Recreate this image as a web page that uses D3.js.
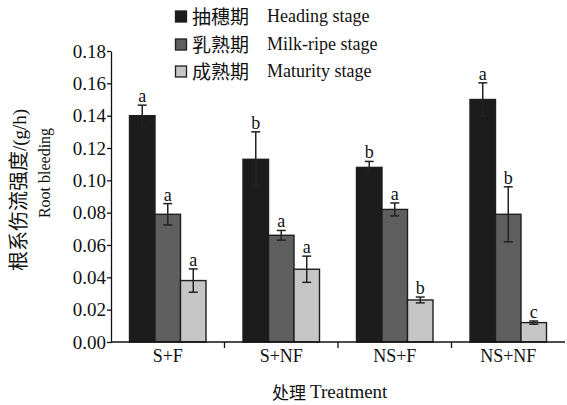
<!DOCTYPE html>
<html><head><meta charset="utf-8">
<script src="https://cdn.jsdelivr.net/npm/d3@7"></script>
</head><body style="margin:0;background:#fff">
<svg id="chart" width="567" height="405"></svg>
<script>
const categories = ["S+F", "S+NF", "NS+F", "NS+NF"];
const seriesNames = ["抽穗期", "乳熟期", "成熟期"];
const seriesNamesEn = ["Heading stage", "Milk-ripe stage", "Maturity stage"];
const seriesColors = ["#1c1c1c", "#5f5f5f", "#c6c6c6"];
const heading = [0.140, 0.113, 0.108, 0.150];
const milkRipe = [0.079, 0.066, 0.082, 0.079];
const maturity = [0.038, 0.045, 0.026, 0.012];
const headingErr = [0.0065, 0.017, 0.0037, 0.0103];
const milkRipeErr = [0.0066, 0.003, 0.004, 0.017];
const maturityErr = [0.0072, 0.0081, 0.0018, 0.001];
const headingSig = ["a", "b", "b", "a"];
const milkRipeSig = ["a", "a", "a", "b"];
const maturitySig = ["a", "a", "b", "c"];
const yTicks = [0, 0.02, 0.04, 0.06, 0.08, 0.10, 0.12, 0.14, 0.16, 0.18];

const SERIF = "Liberation Serif";
const CJK = "Noto Sans CJK SC";

const values = [heading, milkRipe, maturity];
const errs = [headingErr, milkRipeErr, maturityErr];
const sigs = [headingSig, milkRipeSig, maturitySig];

const svg = d3.select("#chart");
const x0 = 111, x1 = 565, yTop = 51, yBot = 342;

const x = d3.scaleBand().domain(categories).range([x0, x1]).paddingInner(0).paddingOuter(0);
const y = d3.scaleLinear().domain([0, 0.18]).range([yBot, yTop]);
const barW = 25.5;
const groupW = barW * 3;

const data = [];
categories.forEach((c, ci) => {
  values.forEach((vals, si) => {
    data.push({c, si, v: vals[ci], e: errs[si][ci], s: sigs[si][ci]});
  });
});
const bx = d => x(d.c) + x.bandwidth() / 2 - groupW / 2 + d.si * barW;

svg.append("g").selectAll("rect").data(data).join("rect")
  .attr("x", d => bx(d))
  .attr("y", d => y(d.v))
  .attr("width", barW)
  .attr("height", d => y(0) - y(d.v))
  .attr("fill", d => seriesColors[d.si])
  .attr("stroke", "#1e1e1e")
  .attr("stroke-width", 1.4);

const eg = svg.append("g").attr("stroke", "#222").attr("stroke-width", 1.5);
data.forEach(d => {
  const cx = bx(d) + barW / 2;
  const top = y(d.v + d.e), bot = y(d.v - d.e);
  eg.append("line").attr("x1", cx).attr("x2", cx).attr("y1", top).attr("y2", bot);
  eg.append("line").attr("x1", cx - 4.5).attr("x2", cx + 4.5).attr("y1", top).attr("y2", top);
  eg.append("line").attr("x1", cx - 4.5).attr("x2", cx + 4.5).attr("y1", bot).attr("y2", bot);
});

svg.append("g").selectAll("text").data(data).join("text")
  .style("font-family", SERIF)
  .attr("x", d => bx(d) + barW / 2)
  .attr("y", d => y(d.v + d.e) - 3)
  .attr("text-anchor", "middle")
  .attr("font-size", 18)
  .attr("fill", "#111")
  .text(d => d.s);

// y axis
const yAxis = d3.axisLeft(y).tickValues(yTicks).tickFormat(d3.format(".2f")).tickSize(4).tickSizeOuter(0);
const yg = svg.append("g").attr("transform", `translate(${x0},0)`).call(yAxis);
yg.attr("font-family", null).attr("font-size", null);
yg.select(".domain").attr("stroke", "#111").attr("stroke-width", 1.3);
yg.selectAll(".tick line").attr("stroke", "#111").attr("stroke-width", 1.3);
yg.selectAll(".tick text").style("font-family", SERIF).attr("font-size", 19).attr("fill", "#111")
  .attr("x", -5);

// x axis
const xg = svg.append("g").attr("transform", `translate(0,${yBot})`);
xg.append("line").attr("x1", x0).attr("x2", x1).attr("y1", 0).attr("y2", 0)
  .attr("stroke", "#111").attr("stroke-width", 1.5);
categories.slice(1).forEach(c => {
  xg.append("line").attr("x1", x(c)).attr("x2", x(c)).attr("y1", 0).attr("y2", 6)
    .attr("stroke", "#111").attr("stroke-width", 1.3);
});
xg.selectAll("text.cat").data(categories).join("text")
  .attr("class", "cat")
  .style("font-family", SERIF)
  .attr("x", d => x(d) + x.bandwidth() / 2)
  .attr("y", 20)
  .attr("text-anchor", "middle")
  .attr("font-size", 18)
  .attr("fill", "#111")
  .text(d => d);

// x title
svg.append("text").style("font-family", CJK).attr("x", 272).attr("y", 399)
  .attr("font-size", 17).attr("fill", "#111").text("处理");
svg.append("text").style("font-family", SERIF).attr("x", 310).attr("y", 398)
  .attr("font-size", 19).attr("fill", "#111").text("Treatment");

// y title
const yt1 = svg.append("text").attr("transform", "translate(26,190) rotate(-90)").attr("text-anchor", "middle").attr("fill", "#111");
yt1.append("tspan").style("font-family", CJK).attr("font-size", 20).text("根系伤流强度");
yt1.append("tspan").style("font-family", SERIF).attr("font-size", 19).text("/(g/h)");
svg.append("text").style("font-family", SERIF).attr("transform", "translate(50,173) rotate(-90)")
  .attr("text-anchor", "middle").attr("font-size", 16).attr("fill", "#111").text("Root bleeding");

// legend
const legY = [17, 45, 72];
const lg = svg.append("g");
seriesNames.forEach((n, i) => {
  lg.append("rect").attr("x", 175.5).attr("y", legY[i] - 6).attr("width", 11).attr("height", 11)
    .attr("fill", seriesColors[i]).attr("stroke", "#1e1e1e").attr("stroke-width", 1.3);
  lg.append("text").style("font-family", CJK).attr("x", 192).attr("y", legY[i] + 6.5).attr("font-size", 19)
    .attr("fill", "#111").text(n);
  lg.append("text").style("font-family", SERIF).attr("x", 267).attr("y", legY[i] + 5).attr("font-size", 18)
    .attr("fill", "#111").text(seriesNamesEn[i]);
});
</script>
</body></html>
